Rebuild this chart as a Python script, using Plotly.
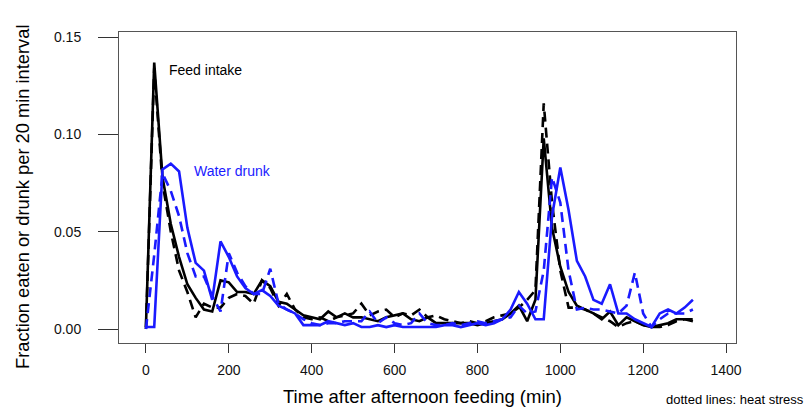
import plotly.graph_objects as go

time_min = list(range(0, 1321, 20))

feed_normal = [0.001, 0.137, 0.078, 0.054, 0.037, 0.023, 0.016, 0.010, 0.009, 0.025,
               0.024, 0.019, 0.019, 0.018, 0.025, 0.022, 0.014, 0.013, 0.010, 0.007,
               0.006, 0.005, 0.009, 0.006, 0.008, 0.006, 0.006, 0.005, 0.004, 0.006,
               0.007, 0.008, 0.005, 0.004, 0.006, 0.003, 0.003, 0.003, 0.003, 0.003,
               0.002, 0.003, 0.004, 0.005, 0.008, 0.012, 0.004, 0.015, 0.098, 0.052,
               0.032, 0.019, 0.012, 0.010, 0.008, 0.005, 0.009, 0.002, 0.006, 0.004,
               0.002, 0.001, 0.002, 0.003, 0.005, 0.005, 0.004]

feed_heat = [0.000, 0.134, 0.075, 0.050, 0.030, 0.019, 0.006, 0.013, 0.011, 0.011,
             0.016, 0.018, 0.017, 0.013, 0.025, 0.021, 0.012, 0.018, 0.010, 0.006,
             0.005, 0.006, 0.004, 0.006, 0.007, 0.008, 0.013, 0.007, 0.009, 0.010,
             0.006, 0.008, 0.007, 0.010, 0.006, 0.007, 0.005, 0.004, 0.003, 0.004,
             0.003, 0.004, 0.006, 0.007, 0.008, 0.011, 0.015, 0.020, 0.116, 0.065,
             0.030, 0.011, 0.011, 0.010, 0.008, 0.006, 0.004, 0.001, 0.003, 0.004,
             0.002, 0.001, 0.001, 0.002, 0.004, 0.005, 0.005]

water_normal = [0.001, 0.001, 0.082, 0.085, 0.081, 0.052, 0.034, 0.030, 0.015, 0.045,
                0.037, 0.027, 0.021, 0.018, 0.020, 0.017, 0.012, 0.010, 0.008, 0.002,
                0.002, 0.002, 0.004, 0.003, 0.002, 0.003, 0.001, 0.001, 0.002, 0.001,
                0.002, 0.001, 0.001, 0.001, 0.001, 0.001, 0.002, 0.002, 0.001, 0.002,
                0.003, 0.002, 0.003, 0.005, 0.010, 0.019, 0.013, 0.005, 0.005, 0.058,
                0.083, 0.061, 0.035, 0.027, 0.015, 0.013, 0.023, 0.008, 0.008, 0.005,
                0.003, 0.001, 0.008, 0.010, 0.008, 0.011, 0.015]

water_heat = [0.000, 0.038, 0.080, 0.071, 0.058, 0.039, 0.027, 0.027, 0.017, 0.009,
              0.039, 0.029, 0.022, 0.018, 0.018, 0.031, 0.013, 0.010, 0.008, 0.005,
              0.003, 0.002, 0.003, 0.003, 0.004, 0.004, 0.004, 0.009, 0.003, 0.006,
              0.003, 0.002, 0.003, 0.008, 0.003, 0.002, 0.002, 0.003, 0.002, 0.003,
              0.004, 0.003, 0.004, 0.005, 0.006, 0.012, 0.008, 0.009, 0.030, 0.078,
              0.065, 0.030, 0.010, 0.011, 0.010, 0.010, 0.009, 0.008, 0.012, 0.029,
              0.008, 0.001, 0.005, 0.008, 0.008, 0.008, 0.010]

x_ticks = [0, 200, 400, 600, 800, 1000, 1200, 1400]
y_ticks = [0.00, 0.05, 0.10, 0.15]
y_tick_text = ["0.00", "0.05", "0.10", "0.15"]

BLUE = "#1a1aff"
FONT = "Liberation Sans, Arial, sans-serif"

fig = go.Figure()
series = [
    (feed_normal, "black", "solid"),
    (feed_heat, "black", "dash"),
    (water_normal, BLUE, "solid"),
    (water_heat, BLUE, "dash"),
]
for vals, col, dash in series:
    fig.add_trace(go.Scatter(
        x=time_min, y=vals, mode="lines",
        line=dict(color=col, width=2.6, dash="10px,6px" if dash == "dash" else "solid"),
        showlegend=False, hoverinfo="skip"))

fig.update_layout(
    width=809, height=407,
    margin=dict(l=119, r=73, t=32, b=64, autoexpand=False),
    paper_bgcolor="white", plot_bgcolor="white",
    font=dict(family=FONT, color="black", size=14),
    xaxis=dict(range=[-65, 1424], tickvals=x_ticks, ticktext=[str(v) for v in x_ticks],
               showgrid=False, zeroline=False, showline=True, mirror=True,
               linecolor="#555555", linewidth=1, ticks="outside", ticklen=9,
               tickcolor="#333333", tickfont=dict(size=14, color="#111111"),
               ticklabelstandoff=5, automargin=False),
    yaxis=dict(range=[-0.0072, 0.1527], tickvals=y_ticks, ticktext=y_tick_text,
               showgrid=False, zeroline=False, showline=True, mirror=True,
               linecolor="#555555", linewidth=1, ticks="outside", ticklen=20,
               tickcolor="#333333", tickfont=dict(size=14, color="#111111"),
               ticklabelstandoff=14, automargin=False),
)

def px_x(p):
    return (p - 119) / (736 - 119)

def px_y(p):
    return (343 - p) / (343 - 32)

fig.add_annotation(x=52, y=0.133, xref="x", yref="y", text="Feed intake",
                   showarrow=False, xanchor="left", yanchor="middle",
                   font=dict(size=14, color="black"))
fig.add_annotation(x=110, y=0.0814, xref="x", yref="y", text="Water drunk",
                   showarrow=False, xanchor="left", yanchor="middle",
                   font=dict(size=14, color=BLUE))
fig.add_annotation(x=px_x(422), y=px_y(396), xref="paper", yref="paper",
                   text="Time after afternoon feeding (min)", showarrow=False,
                   xanchor="center", yanchor="middle", font=dict(size=18.5, color="black"))
fig.add_annotation(x=px_x(22), y=px_y(197), xref="paper", yref="paper",
                   text="Fraction eaten or drunk per 20 min interval", showarrow=False,
                   textangle=-90, xanchor="center", yanchor="middle",
                   font=dict(size=18.3, color="black"))
fig.add_annotation(x=px_x(806), y=px_y(399), xref="paper", yref="paper",
                   text="dotted lines: heat stress", showarrow=False,
                   xanchor="right", yanchor="middle", font=dict(size=13, color="black"))

fig.write_html("out.html", config={"displayModeBar": False},
               post_script="document.body.style.margin='0px';document.body.style.overflow='hidden';")
